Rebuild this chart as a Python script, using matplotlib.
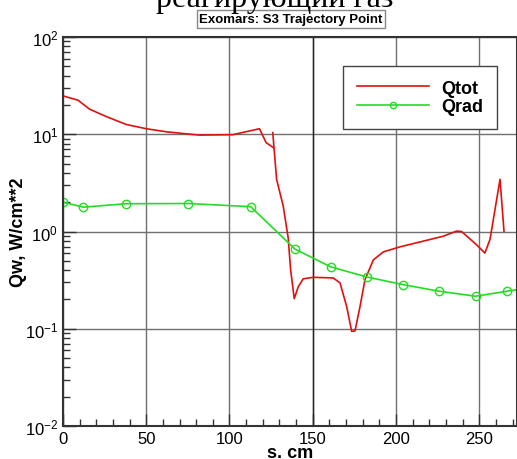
import matplotlib
matplotlib.use("Agg")
import matplotlib.pyplot as plt
from matplotlib.lines import Line2D
from matplotlib.ticker import LogLocator, MultipleLocator, LogFormatterMathtext

# Qtot, first part (up to the break near s=126)
s_tot1 = [0, 9, 16, 26, 38, 50, 62, 82, 102, 112, 118, 122, 126.3]
q_tot1 = [24.8, 22.4, 18.1, 15.2, 12.6, 11.4, 10.6, 9.8, 9.9, 10.8, 11.4, 8.2, 7.3]
# Qtot, second part
s_tot2 = [126, 128.3, 132.3, 135.3, 136.7, 138.9, 141.3, 144.3, 150.3, 162.3, 166.4,
          170.4, 173.4, 175.4, 178.4, 181.4, 186.4, 192.4, 202.4, 228.4, 236.4,
          239.4, 248.4, 253.4, 256.5, 262.5, 264.9]
q_tot2 = [10.4, 3.44, 1.82, 0.85, 0.406, 0.204, 0.27, 0.326, 0.338, 0.333, 0.296,
          0.169, 0.094, 0.095, 0.169, 0.32, 0.51, 0.617, 0.695, 0.894, 1.01,
          1.0, 0.73, 0.60, 0.83, 3.44, 1.0]
# Qrad
s_rad = [0, 12.2, 37.8, 75.3, 112.7, 139.3, 160.8, 182.4, 204.4, 226, 247.9, 266.5, 278]
q_rad = [2.0, 1.78, 1.93, 1.94, 1.80, 0.66, 0.433, 0.341, 0.284, 0.243, 0.216, 0.243, 0.26]

fig = plt.figure(figsize=(5.17, 4.6), dpi=100)
ax = fig.add_axes([63/517, 1-427/460, 1-63/517, (427-38)/460])

red = '#e01010'
green = '#22dd22'
ax.plot(s_tot1, q_tot1, color=red, lw=1.2)
ax.plot(s_tot2, q_tot2, color=red, lw=1.2)
ax.plot(s_rad, q_rad, color=green, lw=1.2, marker='o', ms=6, mfc='none',
        mec=green, markevery=list(range(len(s_rad)-1)))

ax.set_yscale('log')
ax.set_xlim(0, 272.7)
ax.set_ylim(1e-2, 1e2)

ax.xaxis.set_major_locator(MultipleLocator(50))
ax.xaxis.set_minor_locator(MultipleLocator(10))
ax.yaxis.set_major_locator(LogLocator(base=10))
ax.yaxis.set_minor_locator(LogLocator(base=10, subs=range(2, 10)))
ax.yaxis.set_major_formatter(LogFormatterMathtext())
ax.tick_params(which='both', direction='in', labelsize=12, width=1, colors='#333333',
               labelcolor='black')
ax.tick_params(which='major', length=9)
ax.tick_params(which='minor', length=5)
for lab in ax.get_xticklabels() + ax.get_yticklabels():
    lab.set_family('Liberation Sans')

ax.grid(True, which='major', color='#707070', lw=1)
ax.axvline(150, color='#222222', lw=1, zorder=0.6)
for sp in ax.spines.values():
    sp.set_linewidth(1.5)
    sp.set_color('#333333')
ax.set_axisbelow(True)

ax.set_xlabel('s. cm', fontsize=13, fontweight='bold', family='Liberation Sans', labelpad=-1)
ax.set_ylabel('Qw, W/cm**2', fontsize=13, fontweight='bold', family='Liberation Sans')
ax.yaxis.set_label_coords(-(63-27)/454, 0.5)

handles = [Line2D([], [], color=red, lw=1.2),
           Line2D([], [], color=green, lw=1.2, marker='o', ms=4.5, mfc='none', mec=green)]
leg = ax.legend(handles, ['Qtot', 'Qrad'], loc='upper left',
                bbox_to_anchor=((343-63)/454, 1-(67-38)/389),
                prop={'family': 'Liberation Sans', 'weight': 'bold', 'size': 13},
                fancybox=False, edgecolor='#444444', framealpha=1, handlelength=4.0,
                borderpad=0.75, labelspacing=0.1, handletextpad=0.7, borderaxespad=0,
                numpoints=1)
leg.get_frame().set_linewidth(1)

fig.text(291/517, 1-20/460, 'Exomars: S3 Trajectory Point', ha='center', va='center',
         fontsize=9.5, fontweight='bold', family='Liberation Sans',
         bbox=dict(boxstyle='square,pad=0.2', fc='white', ec='#888888', lw=1))
fig.text(275/517, 1-7/460, 'реагирующий газ', ha='center', va='baseline',
         fontsize=23, family='Liberation Serif')

fig.savefig('out.png', dpi=100)
